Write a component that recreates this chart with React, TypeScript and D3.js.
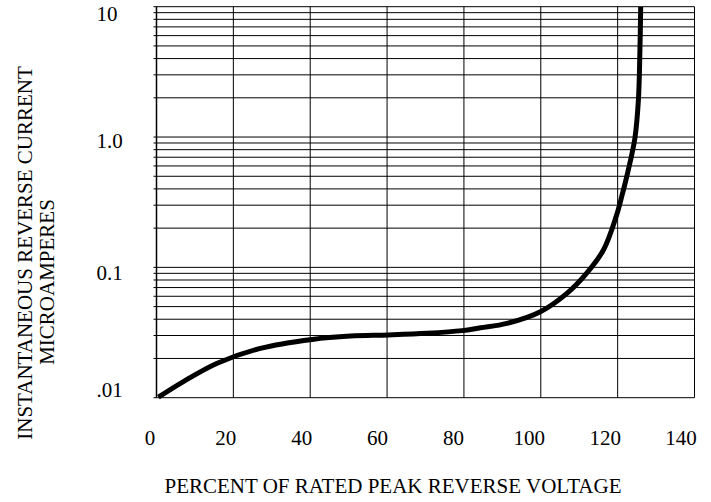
import React from "react";
import * as d3 from "d3";

const W = 711;
const H = 502;

// Data
const percentVoltage = [0.5, 7, 15.8, 27, 40.5, 50.5, 60.3, 70.4, 79.5, 84.3, 91.2, 99.9, 106.8, 111.9, 116.3, 119.6, 121.1, 122.4, 123.6, 124.5, 125.4, 125.8, 126.0];
const reverseCurrent = [0.0101, 0.0133, 0.0184, 0.0239, 0.028, 0.0297, 0.0303, 0.0312, 0.0327, 0.0344, 0.0372, 0.0457, 0.0632, 0.09, 0.136, 0.245, 0.353, 0.502, 0.715, 0.983, 1.92, 4.65, 10];

const xTicks = [0, 20, 40, 60, 80, 100, 120, 140];
const yMajor = [0.01, 0.1, 1, 10];
const yTickLabels = [".01", "0.1", "1.0", "10"];
const xTitle = "PERCENT OF RATED PEAK REVERSE VOLTAGE";
const yTitle1 = "INSTANTANEOUS REVERSE CURRENT";
const yTitle2 = "MICROAMPERES";

const FONT = "'Liberation Serif', 'Times New Roman', serif";

export default function App() {
  const x = d3.scaleLinear().domain([0, 140]).range([156.5, 694.5]);
  const y = d3.scaleLog().domain([0.01, 10]).range([397.7, 6.7]);
  const xLabel = d3.scaleLinear().domain([0, 140]).range([150, 681]);

  const minor: number[] = [];
  for (let e = -2; e < 1; e++) {
    for (let m = 2; m <= 9; m++) minor.push(m * Math.pow(10, e));
  }
  const hLines = [...yMajor, ...minor];

  const pts = percentVoltage.map((p, i) => [x(p), y(reverseCurrent[i])] as [number, number]);
  const line = d3.line().curve(d3.curveCatmullRom.alpha(0.5))(pts) || "";

  const [x0, x1] = x.range();
  const [yb, yt] = y.range();
  const labelBaseline: Record<string, number> = { ".01": 397.3, "0.1": 280, "1.0": 148.3, "10": 20.7 };

  return (
    <svg width={W} height={H} style={{ position: "absolute", left: 0, top: 0, background: "#fff" }} fontFamily={FONT}>
      <defs>
        <clipPath id="plot">
          <rect x={x0} y={yt} width={x1 - x0} height={yb - yt + 4} />
        </clipPath>
      </defs>
      {hLines.map((v, i) => (
        <line key={"h" + i} x1={x0 - 3} x2={x1} y1={y(v)} y2={y(v)} stroke="#000" strokeWidth={1} />
      ))}
      {xTicks.map((t) => (
        <line key={"v" + t} x1={x(t)} x2={x(t)} y1={yt} y2={yb} stroke="#000" strokeWidth={t === 0 ? 1.5 : 1} />
      ))}
      <path d={line} fill="none" stroke="#000" strokeWidth={5} clipPath="url(#plot)" />
      {xTicks.map((t) => (
        <text key={"xl" + t} x={xLabel(t)} y={445} fontSize={21} textAnchor="middle" fill="#000">
          {t}
        </text>
      ))}
      {yTickLabels.map((l) => (
        <text key={"yl" + l} x={96.5} y={labelBaseline[l]} fontSize={21} textAnchor="start" fill="#000">
          {l}
        </text>
      ))}
      <text x={393} y={493} fontSize={21} textAnchor="middle" fill="#000">
        {xTitle}
      </text>
      <text transform="translate(31.5,253) rotate(-90)" fontSize={21} textAnchor="middle" fill="#000">
        {yTitle1}
      </text>
      <text transform="translate(53.5,282) rotate(-90)" fontSize={21} textAnchor="middle" fill="#000">
        {yTitle2}
      </text>
    </svg>
  );
}
